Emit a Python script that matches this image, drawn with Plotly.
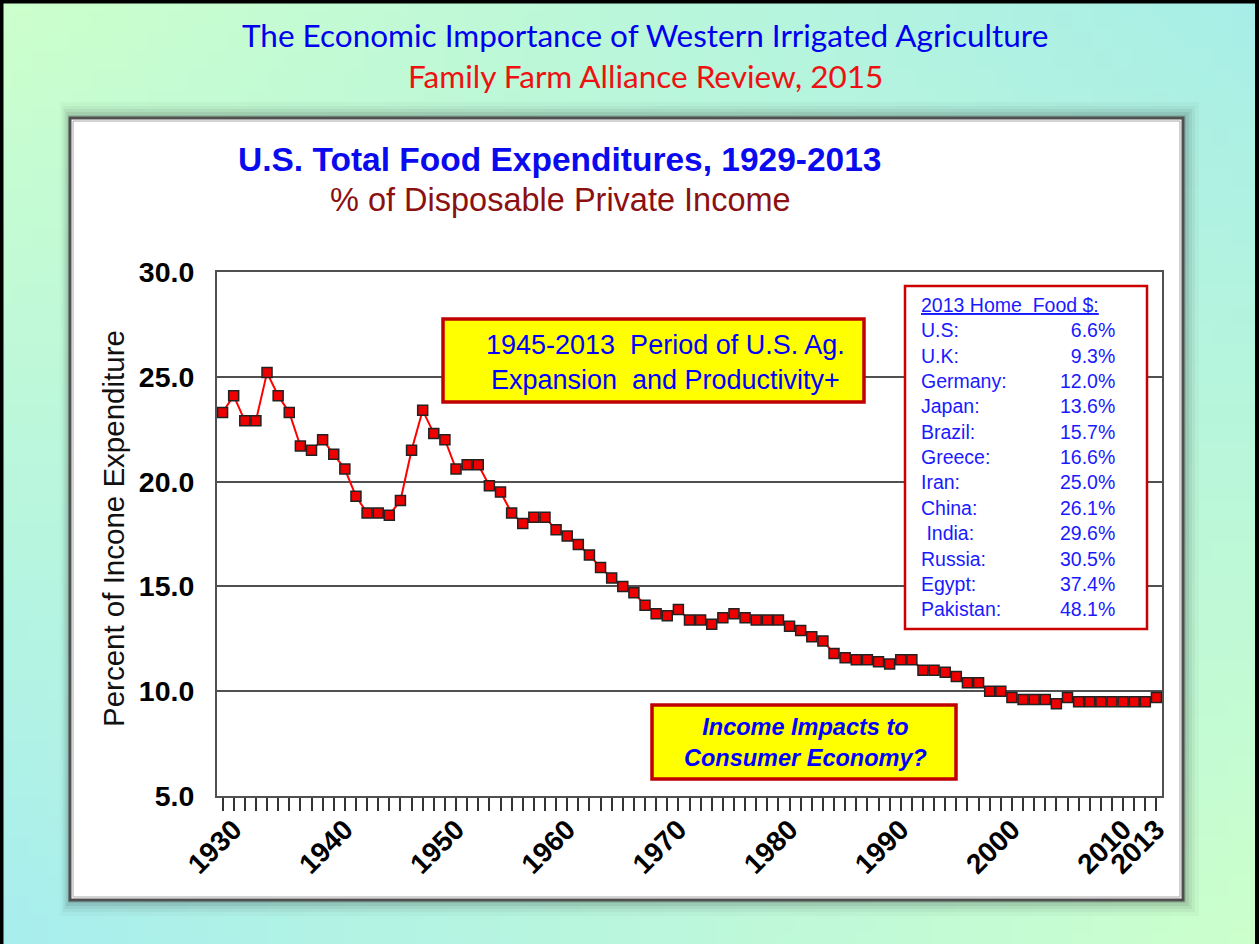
import zlib, struct, base64
import plotly.graph_objects as go

# ---------------- data ----------------
years = list(range(1929, 2014))
food_pct = [23.3,
            24.1, 22.9, 22.9, 25.2, 24.1, 23.3, 21.7, 21.5, 22.0, 21.3,
            20.6, 19.3, 18.5, 18.5, 18.4, 19.1, 21.5, 23.4, 22.3, 22.0,
            20.6, 20.8, 20.8, 19.8, 19.5, 18.5, 18.0, 18.3, 18.3, 17.7,
            17.4, 17.0, 16.5, 15.9, 15.4, 15.0, 14.7, 14.1, 13.7, 13.6,
            13.9, 13.4, 13.4, 13.2, 13.5, 13.7, 13.5, 13.4, 13.4, 13.4,
            13.1, 12.9, 12.6, 12.4, 11.8, 11.6, 11.5, 11.5, 11.4, 11.3,
            11.5, 11.5, 11.0, 11.0, 10.9, 10.7, 10.4, 10.4, 10.0, 10.0,
            9.7, 9.6, 9.6, 9.6, 9.4, 9.7, 9.5, 9.5, 9.5, 9.5,
            9.5, 9.5, 9.5, 9.7]
labelled_years = [1930, 1940, 1950, 1960, 1970, 1980, 1990, 2000, 2010, 2013]
y_ticks = [5, 10, 15, 20, 25, 30]

countries = ["U.S", "U.K", "Germany", "Japan", "Brazil", "Greece", "Iran",
             "China", "&nbsp;India", "Russia", "Egypt", "Pakistan"]
home_food_share = ["6.6%", "9.3%", "12.0%", "13.6%", "15.7%", "16.6%", "25.0%",
                   "26.1%", "29.6%", "30.5%", "37.4%", "48.1%"]

# ---------------- geometry helpers (pixels -> paper) ----------------
W, H = 1259, 944
L, R, T, B = 217, 1162, 272, 796
PW, PH = R - L, B - T


def px(x):
    return (x - L) / PW


def py(y):
    return (B - y) / PH


def png_gradient(w, h, tl, tr, bl, br):
    rows = []
    for j in range(h):
        v = j / (h - 1)
        row = bytearray([0])
        for i in range(w):
            u = i / (w - 1)
            for k in range(3):
                row.append(int(round(tl[k] * (1 - u) * (1 - v) + tr[k] * u * (1 - v)
                                     + bl[k] * (1 - u) * v + br[k] * u * v)))
        rows.append(bytes(row))
    raw = b"".join(rows)

    def chunk(t, d):
        c = struct.pack(">I", len(d)) + t + d
        return c + struct.pack(">I", zlib.crc32(t + d) & 0xffffffff)

    png = (b"\x89PNG\r\n\x1a\n"
           + chunk(b"IHDR", struct.pack(">IIBBBBB", w, h, 8, 2, 0, 0, 0))
           + chunk(b"IDAT", zlib.compress(raw))
           + chunk(b"IEND", b""))
    return "data:image/png;base64," + base64.b64encode(png).decode()


bg_src = png_gradient(64, 48, (204, 255, 204), (168, 238, 232),
                      (168, 238, 238), (204, 255, 204))

fig = go.Figure()
fig.add_trace(go.Scatter(
    x=years, y=food_pct, mode="lines+markers",
    line=dict(color="#ff0000", width=2),
    marker=dict(symbol="square", size=10, color="#ee0000",
                line=dict(color="#222222", width=1.5)),
    showlegend=False, hoverinfo="x+y"))

shapes = []
# shadow around the white panel
for k, a in [(16, 0.03), (12, 0.045), (9, 0.06), (6, 0.08), (3, 0.11)]:
    shapes.append(dict(type="rect", xref="paper", yref="paper", layer="below",
                       x0=px(70 - k * 0.6), x1=px(1183 + k), y0=py(900 + k), y1=py(118 - k),
                       fillcolor=f"rgba(30,30,30,{a})", line=dict(width=0)))
# white panel
shapes.append(dict(type="rect", xref="paper", yref="paper", layer="below",
                   x0=px(70), x1=px(1183), y0=py(900), y1=py(118),
                   fillcolor="white", line=dict(color="#505050", width=3)))
shapes.append(dict(type="rect", xref="paper", yref="paper", layer="below",
                   x0=px(73), x1=px(1180), y0=py(897), y1=py(121),
                   fillcolor="rgba(0,0,0,0)", line=dict(color="#a8a8a8", width=1)))
# black frame edges
for x0, y0, x1, y1 in [(0, 1.5, W, 1.5), (1.5, 0, 1.5, H), (W - 2, 0, W - 2, H)]:
    shapes.append(dict(type="line", xref="paper", yref="paper", layer="above",
                       x0=px(x0), x1=px(x1), y0=py(y0), y1=py(y1),
                       line=dict(color="black", width=4)))
# legend box
shapes.append(dict(type="rect", xref="paper", yref="paper", layer="above",
                   x0=px(905), x1=px(1147), y0=py(629), y1=py(286),
                   fillcolor="white", line=dict(color="#cc0000", width=2.5)))
# yellow boxes
shapes.append(dict(type="rect", xref="paper", yref="paper", layer="above",
                   x0=px(443), x1=px(864), y0=py(402), y1=py(319),
                   fillcolor="#ffff00", line=dict(color="#c00000", width=3.5)))
shapes.append(dict(type="rect", xref="paper", yref="paper", layer="above",
                   x0=px(652), x1=px(956), y0=py(779), y1=py(705),
                   fillcolor="#ffff00", line=dict(color="#c00000", width=3.5)))

ARIAL = "Liberation Sans, Arial, sans-serif"
ann = []


def add_text(text, x, y, size, color, family=ARIAL, xanchor="center", yanchor="middle",
             align="center", angle=0):
    ann.append(dict(text=text, x=px(x), y=py(y), xref="paper", yref="paper",
                    xanchor=xanchor, yanchor=yanchor, align=align, showarrow=False,
                    textangle=angle, font=dict(family=family, size=size, color=color)))


add_text("The Economic Importance of Western Irrigated Agriculture", 645, 35, 31.5,
         "#0000ee", family="Lato, sans-serif")
add_text("Family Farm Alliance Review, 2015", 645, 76, 31.5, "#ee1111",
         family="Lato, sans-serif")
add_text("<b>U.S. Total Food Expenditures, 1929-2013</b>", 560, 159, 33.5, "#0a0aee")
add_text("% of Disposable Private Income", 560, 200, 32.5, "#8b1010")
add_text("Percent of Incone Expenditure", 113, 529, 29.5, "#111111", angle=-90)
add_text("1945-2013  Period of U.S. Ag.<br>Expansion  and Productivity+", 665, 362, 27,
         "#0000ff")
add_text("<b><i>Income Impacts to<br>Consumer Economy?</i></b>", 805, 742, 23.5, "#0000ff")

names_text = "<br>".join(["<u>2013 Home  Food $:</u>"] + [c + ":" for c in countries])
vals_text = "<br>".join(["&nbsp;"] + home_food_share)
add_text(names_text, 919, 457, 19.5, "#1a1aff", xanchor="left", align="left")
add_text(vals_text, 1117, 457, 19.5, "#1a1aff", xanchor="right", align="right")

fig.update_layout(
    width=W, height=H, autosize=False,
    margin=dict(l=L, r=W - R, t=T, b=H - B, pad=0),
    paper_bgcolor="#bdf5dc", plot_bgcolor="white",
    images=[dict(source=bg_src, xref="paper", yref="paper", x=px(0), y=py(0),
                 sizex=W / PW, sizey=H / PH, xanchor="left", yanchor="top",
                 sizing="stretch", layer="below")],
    shapes=shapes, annotations=ann, showlegend=False,
    xaxis=dict(range=[1928.5, 2013.5], tickmode="array", tickvals=years,
               ticktext=[str(y) if y in labelled_years else "" for y in years],
               ticks="outside", ticklen=13, tickwidth=1.5, tickcolor="#333333",
               tickangle=-45, ticklabelstandoff=-9,
               tickfont=dict(family=ARIAL, size=28, color="black", weight="bold"),
               showgrid=False, zeroline=False, showline=True, mirror=True,
               linecolor="#505050", linewidth=2),
    yaxis=dict(range=[5, 30], tickmode="array", tickvals=y_ticks,
               ticktext=[f"{v:.1f}" for v in y_ticks], ticks="",
               ticklabelstandoff=15,
               tickfont=dict(family=ARIAL, size=28.5, color="black", weight="bold"),
               showgrid=True, gridcolor="#505050", gridwidth=1.5, zeroline=False,
               showline=True, mirror=True, linecolor="#505050", linewidth=2),
)

fig.write_html("out.html", config={"displayModeBar": False},
               post_script="document.body.style.margin='0';document.body.style.overflow='hidden';")
